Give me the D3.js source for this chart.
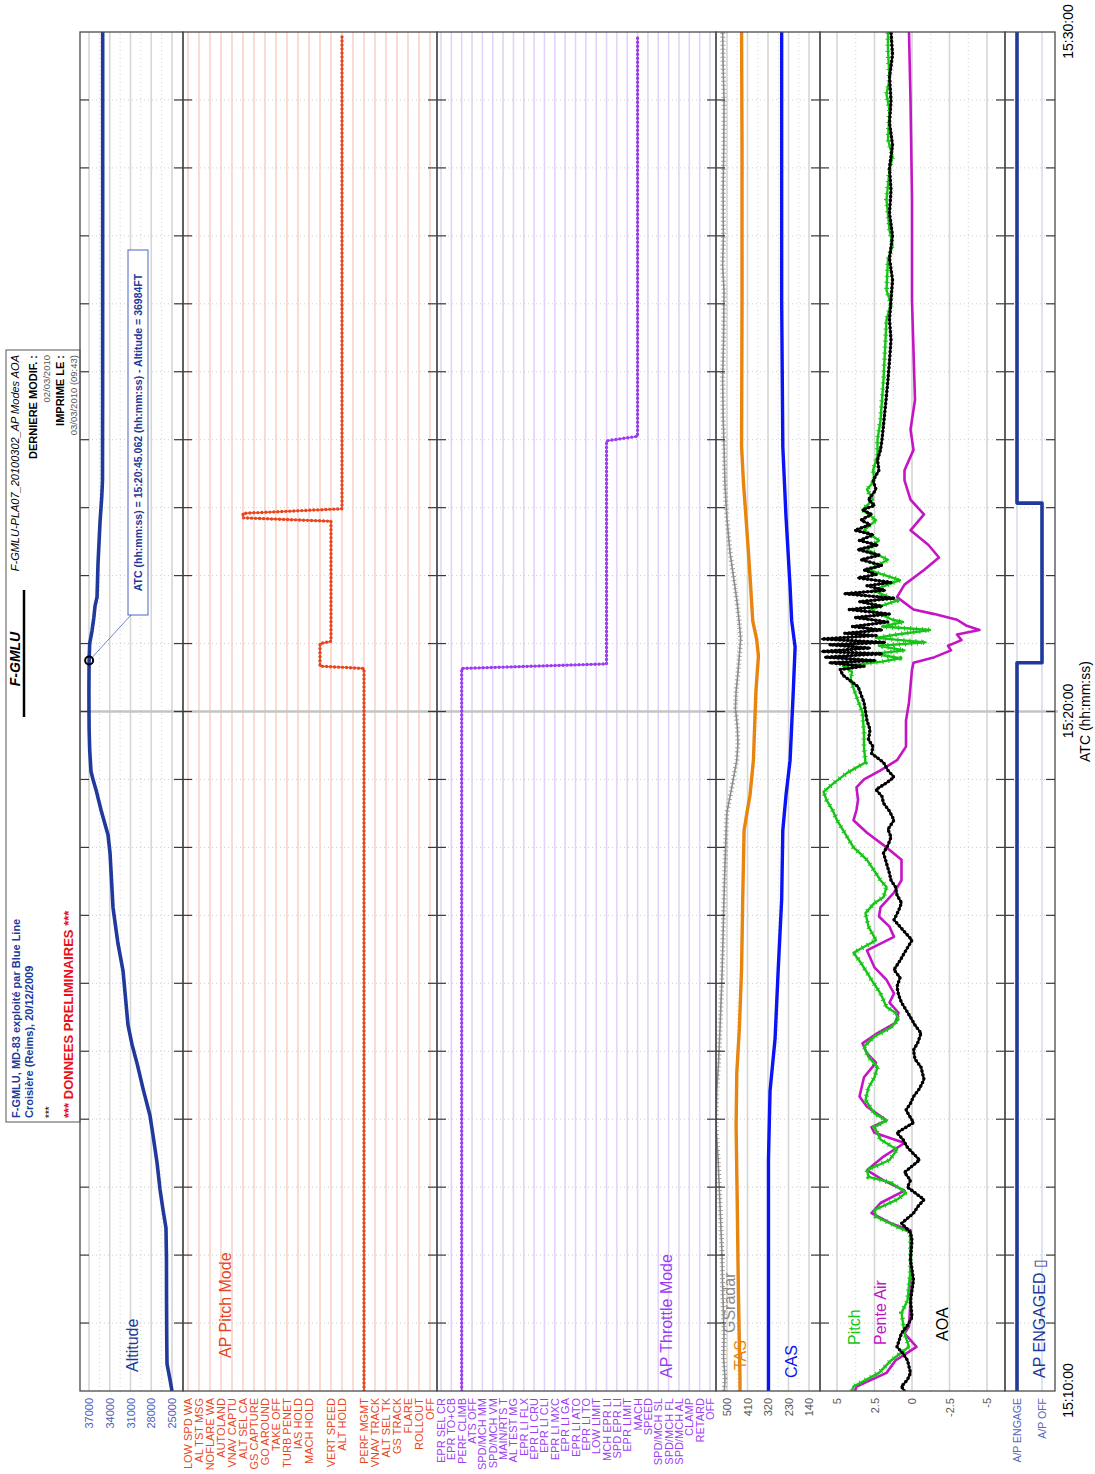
<!DOCTYPE html>
<html>
<head>
<meta charset="utf-8">
<script src="https://cdn.jsdelivr.net/npm/d3@7"></script>
<style>
body { margin: 0; background: #fff; }
svg { display: block; font-family: "Liberation Sans", Arial, sans-serif; }
</style>
</head>
<body>
<div id="chart"></div>
<script>
// time is in seconds after 15:10:00
var altitude = [[0,25000],[10,25290],[24,25720],[45,25760],[80,25790],[116,25800],[144,25870],[160,26300],[178,26730],[202,27170],[226,27750],[243,28180],[267,29190],[288,30000],[306,30780],[323,31360],[371,32080],[395,32810],[427,33530],[475,33960],[491,34250],[513,35260],[531,35990],[540,36420],[547,36710],[566,36900],[584,36980],[600,37000],[619,37010],[645,36984],[660,36900],[671,36570],[683,36300],[693,36130],[701,35840],[730,35700],[767,35410],[789,35160],[804,35050],[875,35030],[1052,35020],[1200,35020]];

var pitchModes = ["LOW SPD WA","AL TST MSG","NOFLARE WA","AUTOLAND","VNAV CAPTU","ALT SEL CA","GS CAPTURE","GO AROUND","TAKE OFF","TURB PENET","IAS HOLD","MACH HOLD","","VERT SPEED","ALT HOLD","","PERF MGMT","VNAV TRACK","ALT SEL TK","GS TRACK","FLARE","ROLLOUT","OFF"];
var pitchMode = [[0,16],[638,16],[640,12],[660,12],[662,13],[768,13],[771,5],[775,5],[779,14],[1196,14]];

var throttleModes = ["EPR SEL CR","EPR TO+CB","PERF CLIMB","ATS OFF","SPD/MCH MM","SPD/MCH VM","MAIN/RTS T","AL TEST MG","EPR LI FLX","EPR LI CRU","EPR LI CLI","EPR LI MXC","EPR LI GA","EPR LI ATO","EPR LI TO","LOW LIMIT","MCH EPR LI","SPD EPR LI","EPR LIMIT","MACH","SPEED","SPD/MCH SL","SPD/MCH FL","SPD/MCH AL","CLAMP","RETARD","OFF"];
var throttleMode = [[0,2],[638,2],[642,16],[839,16],[843,19],[1196,19]];

var gsRadar = [[0,512],[11,509],[30,515],[50,513],[90,519],[127,523],[165,531],[204,539],[234,548],[265,545],[290,537],[319,531],[360,523],[396,518],[430,514],[464,509],[510,501],[533,479],[557,457],[572,452],[587,455],[603,463],[618,460],[634,452],[649,446],[664,440],[680,447],[695,455],[710,465],[741,487],[772,501],[800,509],[834,513],[860,517],[894,519],[930,515],[971,513],[994,519],[1017,516],[1060,517],[1100,514],[1140,513],[1170,517],[1200,519]];
var tas = [[0,443],[11,443],[88,450],[165,455],[234,460],[281,457],[319,446],[373,436],[434,431],[495,425],[510,413],[526,399],[557,384],[618,373],[649,362],[664,370],[680,387],[710,396],[741,406],[803,428],[834,436],[963,434],[1096,434],[1200,436]];
var cas = [[0,318],[127,318],[204,318],[265,311],[311,289],[373,275],[434,260],[495,255],[526,241],[557,223],[618,209],[657,201],[680,216],[710,223],[772,241],[834,255],[963,260],[1200,260]];

var pitch = [[0,4.0],[4,3.9],[16,2.2],[27,1.4],[39,0.2],[51,0.5],[69,0.7],[80,0.3],[107,0.1],[133,0.1],[140,0.1],[145,1.0],[154,2.4],[160,2.5],[169,1.0],[175,0.4],[184,1.4],[189,2.9],[195,3.0],[204,1.5],[213,1.0],[222,2.1],[233,2.5],[239,1.7],[245,2.5],[257,3.1],[268,2.9],[277,2.5],[286,2.3],[295,2.9],[304,3.2],[313,2.5],[321,1.4],[328,0.9],[334,1.1],[339,1.7],[351,2.1],[363,2.7],[378,3.4],[387,3.9],[398,2.4],[410,2.9],[422,3.1],[431,2.5],[436,1.9],[445,1.7],[451,2.1],[457,2.4],[469,3.0],[480,3.9],[493,4.5],[504,5.0],[513,5.3],[522,5.7],[529,5.9],[537,5.2],[546,4.3],[555,3.1],[568,3.2],[581,3.2],[599,3.3],[613,3.7],[628,4.1],[635,4.0],[640,4.6],[644,2.0],[647,0.8],[651,2.5],[654,0.5],[658,2.2],[661,-0.9],[665,2.4],[668,1.0],[672,-1.2],[675,2.0],[679,0.6],[681,1.3],[690,2.8],[698,1.0],[707,2.6],[716,0.8],[725,2.9],[734,1.6],[743,3.0],[751,2.2],[760,3.2],[769,2.4],[778,3.3],[787,2.6],[796,3.0],[804,2.5],[813,2.6],[826,2.3],[840,2.3],[857,2.1],[875,2.0],[893,1.9],[919,1.8],[946,1.7],[960,1.4],[972,1.7],[999,1.6],[1012,1.3],[1025,1.5],[1052,1.7],[1078,1.5],[1090,1.3],[1105,1.6],[1131,1.5],[1145,1.7],[1158,1.5],[1184,1.6],[1200,1.6]];

var penteAir = [[0,3.8],[4,3.7],[16,1.7],[27,1.1],[39,-0.3],[51,0.5],[57,0.2],[80,0.1],[116,0.1],[133,0.1],[142,0.1],[148,1.4],[157,2.7],[166,2.1],[177,0.5],[186,1.9],[195,3.0],[207,1.9],[219,0.5],[228,2.5],[233,2.7],[239,1.7],[251,3.0],[260,3.5],[277,3.2],[290,2.4],[298,3.0],[307,3.3],[316,2.3],[325,1.1],[334,0.9],[343,1.5],[351,1.2],[363,1.7],[374,2.5],[389,3.0],[401,1.2],[410,1.5],[419,2.2],[427,2.1],[440,1.2],[451,0.7],[469,0.7],[480,1.7],[493,3.0],[504,3.9],[513,3.7],[522,3.6],[533,3.7],[540,3.2],[548,2.1],[557,1.0],[569,0.4],[592,0.4],[608,0.2],[637,0.0],[643,-0.1],[648,-1.5],[654,-2.6],[658,-2.4],[663,-3.3],[668,-3.0],[672,-4.5],[676,-3.6],[681,-3.0],[686,-1.5],[690,-0.1],[701,1.0],[712,0.5],[725,-0.8],[736,-1.8],[747,-1.1],[760,0.1],[774,-0.8],[787,0.1],[804,0.5],[813,0.5],[831,-0.1],[849,0.1],[875,-0.2],[919,-0.1],[963,0.0],[1052,0.0],[1140,0.1],[1200,0.2]];

var aoa = [[0,0.5],[4,0.7],[10,0.3],[16,0.1],[27,0.3],[33,0.6],[39,1.0],[51,0.7],[58,0.3],[65,0.0],[80,0.1],[98,-0.1],[116,0.1],[133,0.0],[140,0.1],[148,0.7],[157,-0.1],[163,-0.4],[169,-0.8],[180,0.3],[186,0.1],[193,0.5],[204,-0.5],[215,0.3],[222,0.6],[228,1.0],[237,-0.1],[248,0.4],[254,0.1],[260,-0.1],[267,-0.5],[275,-0.8],[286,-0.6],[293,-0.2],[301,-0.1],[308,-0.4],[316,-0.6],[323,-0.2],[330,0.1],[343,0.7],[350,0.9],[357,1.0],[365,0.8],[372,1.2],[380,0.8],[387,0.5],[398,0.0],[407,0.6],[416,1.2],[424,0.9],[431,0.7],[438,1.0],[445,1.1],[451,1.4],[457,1.5],[466,1.7],[475,1.9],[482,1.6],[489,1.4],[496,1.6],[504,1.2],[512,1.5],[519,1.9],[525,2.0],[531,2.4],[537,1.7],[542,1.2],[548,1.6],[555,1.9],[563,2.7],[569,2.6],[575,2.9],[584,2.8],[592,3.0],[600,3.1],[608,3.2],[615,3.4],[622,3.6],[628,4.2],[632,4.6],[637,4.8],[640,3.2],[643,5.5],[645,2.5],[648,5.8],[651,2.0],[653,6.0],[656,2.8],[659,5.5],[661,1.8],[664,6.0],[667,2.4],[669,4.5],[672,2.0],[675,4.0],[679,1.6],[683,3.8],[686,1.5],[690,4.2],[693,2.0],[697,3.5],[700,1.2],[704,4.5],[707,1.8],[711,3.0],[714,1.4],[718,3.6],[721,2.4],[725,3.2],[729,2.0],[734,3.4],[738,2.2],[743,3.6],[747,2.3],[751,3.5],[756,2.6],[760,3.8],[765,2.8],[769,3.4],[774,2.7],[778,3.3],[782,2.5],[787,2.9],[796,2.4],[804,2.6],[813,2.2],[822,2.3],[831,2.1],[840,2.0],[853,1.9],[866,1.8],[879,1.7],[893,1.6],[910,1.5],[928,1.4],[946,1.5],[963,1.4],[981,1.3],[1000,1.5],[1020,1.3],[1040,1.5],[1060,1.4],[1080,1.5],[1100,1.3],[1120,1.5],[1140,1.4],[1160,1.5],[1180,1.3],[1200,1.4]];

var apModes = ["A/P OFF", "A/P ENGAGE"];
var apEngaged = [[0,1],[643,0],[784,1],[1200,1]];

var altTicks = [25000, 28000, 31000, 34000, 37000];
var speedTicks = [140, 230, 320, 410, 500];
var pitchTicks = [-5, -2.5, 0, 2.5, 5];
var timeLabels = ["15:10:00", "15:20:00", "15:30:00"];

var cursorTime = 645.062, cursorAlt = 36984;

// ---------------------------------------------------------------
var navy = "#20399c", red = "#e8461e", purple = "#9a3df2";

var svg = d3.select("#chart").append("svg")
  .attr("width", 1095)
  .attr("height", 1474);

// chart is drawn 1474 x 1095 then turned a quarter left
var g = svg.append("g").attr("transform", "translate(0,1474) rotate(-90)");

var t0 = new Date(2009, 11, 20, 15, 10, 0);
function T(s) { return new Date(t0.getTime() + s * 1000); }

var x = d3.scaleTime().domain([T(0), T(1200)]).range([83, 1442]);
var xL = 83, xR = 1442;

var panels = [
  { id: "alt", top: 80, bottom: 183 },
  { id: "pmode", top: 183, bottom: 437 },
  { id: "tmode", top: 437, bottom: 716 },
  { id: "spd", top: 716, bottom: 820 },
  { id: "pit", top: 820, bottom: 1005 },
  { id: "ap", top: 1005, bottom: 1055 }
];

var yAlt = d3.scaleLinear().domain([25000, 37000]).range([172, 89]);
var yPM = d3.scaleLinear().domain([0, 22]).range([188, 430]);
var yTM = d3.scaleLinear().domain([0, 26]).range([441, 710]);
var ySpd = d3.scaleLinear().domain([140, 500]).range([809, 727]);
var yPit = d3.scaleLinear().domain([-5, 5]).range([987, 837]);
var yAP = d3.scaleLinear().domain([0, 1]).range([1042, 1017]);

var defs = g.append("defs");
panels.forEach(function(p) {
  defs.append("clipPath").attr("id", "clip-" + p.id)
    .append("rect")
    .attr("x", xL).attr("y", p.top)
    .attr("width", xR - xL).attr("height", p.bottom - p.top);
});

// value grid
function valueGrid(scale, ticks, color, minor) {
  var grid = g.append("g");
  grid.selectAll("line.major").data(ticks).enter().append("line")
    .attr("x1", xL).attr("x2", xR)
    .attr("y1", function(d) { return scale(d); })
    .attr("y2", function(d) { return scale(d); })
    .attr("stroke", color).attr("stroke-width", 1.6);
  if (!minor) return;
  grid.selectAll("line.minor").data(d3.pairs(ticks)).enter().append("line")
    .attr("x1", xL).attr("x2", xR)
    .attr("y1", function(d) { return scale((d[0] + d[1]) / 2); })
    .attr("y2", function(d) { return scale((d[0] + d[1]) / 2); })
    .attr("stroke", "#cfcfcf").attr("stroke-width", 1)
    .attr("stroke-dasharray", "1,3");
}
valueGrid(yAlt, altTicks, "#d6d6d6", true);
valueGrid(ySpd, speedTicks, "#d6d6d6", true);
valueGrid(yPit, pitchTicks, "#d6d6d6", true);
valueGrid(yPM, d3.range(pitchModes.length), "#f9d3c8", false);
valueGrid(yTM, d3.range(throttleModes.length), "#e3d2fa", false);
valueGrid(yAP, [0, 1], "#d6dbef", false);

// time grid
var minutes = x.ticks(d3.timeMinute.every(1));
var inner = minutes.filter(function(d) { return d.getMinutes() % 10 != 0; });
g.append("g").selectAll("line").data(inner).enter().append("line")
  .attr("x1", function(d) { return x(d); }).attr("x2", function(d) { return x(d); })
  .attr("y1", 80).attr("y2", 1055)
  .attr("stroke", "#cfcfcf").attr("stroke-dasharray", "1,3");
g.append("line")
  .attr("x1", x(T(600))).attr("x2", x(T(600)))
  .attr("y1", 80).attr("y2", 1058)
  .attr("stroke", "#c4c4c4").attr("stroke-width", 2.5);

// series
function series(data, y, panelId, color, width, curve) {
  var line = d3.line()
    .x(function(d) { return x(T(d[0])); })
    .y(function(d) { return y(d[1]); })
    .curve(curve || d3.curveLinear);
  return g.append("path")
    .datum(data)
    .attr("clip-path", "url(#clip-" + panelId + ")")
    .attr("fill", "none")
    .attr("stroke", color)
    .attr("stroke-width", width)
    .attr("stroke-linejoin", "round")
    .attr("d", line);
}

series(altitude, yAlt, "alt", navy, 3.6);

series(pitchMode, yPM, "pmode", red, 1.3);
series(pitchMode, yPM, "pmode", red, 3.4)
  .attr("stroke-dasharray", "0,4").attr("stroke-linecap", "round");

series(throttleMode, yTM, "tmode", purple, 1.3);
series(throttleMode, yTM, "tmode", purple, 3.4)
  .attr("stroke-dasharray", "0,4").attr("stroke-linecap", "round");

series(gsRadar, ySpd, "spd", "#8c8c8c", 1.6);
series(gsRadar, ySpd, "spd", "#8c8c8c", 5)
  .attr("stroke-dasharray", "1,3").attr("opacity", 0.8);
series(tas, ySpd, "spd", "#e8850f", 3.4);
series(cas, ySpd, "spd", "#0a14f5", 3.4);

series(penteAir, yPit, "pit", "#c414c4", 2.6);
series(pitch, yPit, "pit", "#16c416", 2.4);
series(pitch, yPit, "pit", "#16c416", 5)
  .attr("stroke-dasharray", "1,5");
series(aoa, yPit, "pit", "#000", 2);
series(aoa, yPit, "pit", "#000", 3.6)
  .attr("stroke-dasharray", "0,4").attr("stroke-linecap", "round");

series(apEngaged, yAP, "ap", navy, 3.6, d3.curveStepAfter);

// panel frames and minute ticks
panels.forEach(function(p) {
  g.append("rect")
    .attr("x", xL).attr("y", p.top)
    .attr("width", xR - xL).attr("height", p.bottom - p.top)
    .attr("fill", "none").attr("stroke", "#4a4a4a").attr("stroke-width", 1.3);
  var tk = g.append("g");
  tk.selectAll("line.t").data(minutes.slice(1, -1)).enter().append("line")
    .attr("x1", function(d) { return x(d); }).attr("x2", function(d) { return x(d); })
    .attr("y1", p.top).attr("y2", p.top + 9)
    .attr("stroke", "#3a3a3a").attr("stroke-width", 1.2);
  tk.selectAll("line.b").data(minutes.slice(1, -1)).enter().append("line")
    .attr("x1", function(d) { return x(d); }).attr("x2", function(d) { return x(d); })
    .attr("y1", p.bottom - 9).attr("y2", p.bottom)
    .attr("stroke", "#3a3a3a").attr("stroke-width", 1.2);
});

// axes
function leftAxis(scale, values, fmt, color, size) {
  var a = g.append("g")
    .attr("transform", "translate(" + xL + ",0)")
    .call(d3.axisLeft(scale).tickValues(values).tickFormat(fmt).tickSize(0).tickPadding(7));
  a.select(".domain").remove();
  a.selectAll("text")
    .attr("fill", color)
    .style("font-size", size + "px")
    .style("font-family", '"Liberation Sans", Arial, sans-serif');
  return a;
}
leftAxis(yAlt, altTicks, function(d) { return String(d); }, "#4a5cc0", 11);
leftAxis(yPM, d3.range(pitchModes.length), function(i) { return pitchModes[i]; }, red, 11);
leftAxis(yTM, d3.range(throttleModes.length), function(i) { return throttleModes[i]; }, purple, 11);
leftAxis(ySpd, speedTicks, function(d) { return String(d); }, "#555", 11);
leftAxis(yPit, pitchTicks, function(d) { return String(d); }, "#555", 11);
leftAxis(yAP, [0, 1], function(i) { return apModes[i]; }, "#5566bb", 10.5);

var tf = d3.timeFormat("%H:%M:%S");
var xa = g.append("g")
  .attr("transform", "translate(0,1055)")
  .call(d3.axisBottom(x)
    .tickValues(minutes.filter(function(d) { return timeLabels.indexOf(tf(d)) >= 0; }))
    .tickFormat(tf).tickSize(0).tickPadding(8));
xa.select(".domain").remove();
xa.selectAll("text").attr("fill", "#000")
  .style("font-size", "14px")
  .style("font-family", '"Liberation Sans", Arial, sans-serif');
g.append("text")
  .attr("x", x(T(600))).attr("y", 1090)
  .attr("text-anchor", "middle")
  .style("font-size", "14px")
  .text("ATC (hh:mm:ss)");

// series names inside the plot
var names = [
  { t: "Altitude", c: navy, x: 102, y: 138 },
  { t: "AP Pitch Mode", c: red, x: 116, y: 231 },
  { t: "AP Throttle Mode", c: purple, x: 96, y: 672 },
  { t: "GSradar", c: "#8c8c8c", x: 141, y: 735 },
  { t: "TAS", c: "#e8850f", x: 104, y: 746 },
  { t: "CAS", c: "#0a14f5", x: 96, y: 797 },
  { t: "Pitch", c: "#16c416", x: 129, y: 860 },
  { t: "Pente Air", c: "#c414c4", x: 129, y: 886 },
  { t: "AOA", c: "#000", x: 133, y: 948 },
  { t: "AP ENGAGED \u25AF", c: navy, x: 96, y: 1045 }
];
g.append("g").selectAll("text").data(names).enter().append("text")
  .attr("x", function(d) { return d.x; })
  .attr("y", function(d) { return d.y; })
  .attr("fill", function(d) { return d.c; })
  .style("font-size", "16px")
  .text(function(d) { return d.t; });

// header block
g.append("rect")
  .attr("x", 352).attr("y", 6).attr("width", 772).attr("height", 74)
  .attr("fill", "none").attr("stroke", "#555").attr("stroke-width", 1);
var hd = g.append("g");
hd.append("text").attr("x", 356).attr("y", 20).attr("fill", navy)
  .style("font-size", "11px").style("font-weight", "bold")
  .text("F-GMLU, MD-83 exploité par Blue Line");
hd.append("text").attr("x", 356).attr("y", 33).attr("fill", navy)
  .style("font-size", "11px").style("font-weight", "bold")
  .text("Croisière (Reims), 20/12/2009");
hd.append("text").attr("x", 356).attr("y", 53).attr("fill", "#000")
  .style("font-size", "10px").text("***");
hd.append("text").attr("x", 356).attr("y", 73).attr("fill", "#e8101a")
  .style("font-size", "13px").style("font-weight", "bold")
  .text("*** DONNEES PRELIMINAIRES ***");

hd.append("text").attr("x", 815).attr("y", 20).attr("text-anchor", "middle")
  .style("font-size", "14px").style("font-weight", "bold").style("font-style", "italic")
  .text("F-GMLU");
hd.append("line").attr("x1", 757).attr("x2", 884).attr("y1", 24).attr("y2", 24)
  .attr("stroke", "#000").attr("stroke-width", 2.5);
hd.append("text").attr("x", 1119).attr("y", 19).attr("text-anchor", "end")
  .style("font-size", "11px").style("font-style", "italic")
  .text("F-GMLU-PLA07_20100302_AP Modes AOA");
hd.append("text").attr("x", 1119).attr("y", 37).attr("text-anchor", "end")
  .style("font-size", "11px").style("font-weight", "bold")
  .text("DERNIERE MODIF. :");
hd.append("text").attr("x", 1119).attr("y", 50).attr("text-anchor", "end")
  .attr("fill", "#555").style("font-size", "9.5px")
  .text("02/03/2010");
hd.append("text").attr("x", 1119).attr("y", 64).attr("text-anchor", "end")
  .style("font-size", "11px").style("font-weight", "bold")
  .text("IMPRIME LE :");
hd.append("text").attr("x", 1119).attr("y", 77).attr("text-anchor", "end")
  .attr("fill", "#555").style("font-size", "9.5px")
  .text("03/03/2010 (09:43)");

// cursor on altitude
var cx = x(T(cursorTime)), cy = yAlt(cursorAlt);
g.append("line")
  .attr("x1", cx + 3).attr("y1", cy + 3)
  .attr("x2", 859).attr("y2", 131)
  .attr("stroke", "#4d64c4").attr("stroke-width", 0.8);
g.append("circle")
  .attr("cx", cx).attr("cy", cy).attr("r", 4)
  .attr("fill", "none").attr("stroke", "#000").attr("stroke-width", 2);
g.append("rect")
  .attr("x", 859).attr("y", 128).attr("width", 365).attr("height", 20)
  .attr("fill", "#fff").attr("stroke", "#4d64c4").attr("stroke-width", 1);
g.append("text")
  .attr("x", 1041.5).attr("y", 142).attr("text-anchor", "middle")
  .attr("fill", navy)
  .style("font-size", "10.5px").style("font-weight", "bold")
  .text("ATC (hh:mm:ss) = 15:20:45.062 (hh:mm:ss) - Altitude = " + cursorAlt + "FT");
</script>
</body>
</html>
